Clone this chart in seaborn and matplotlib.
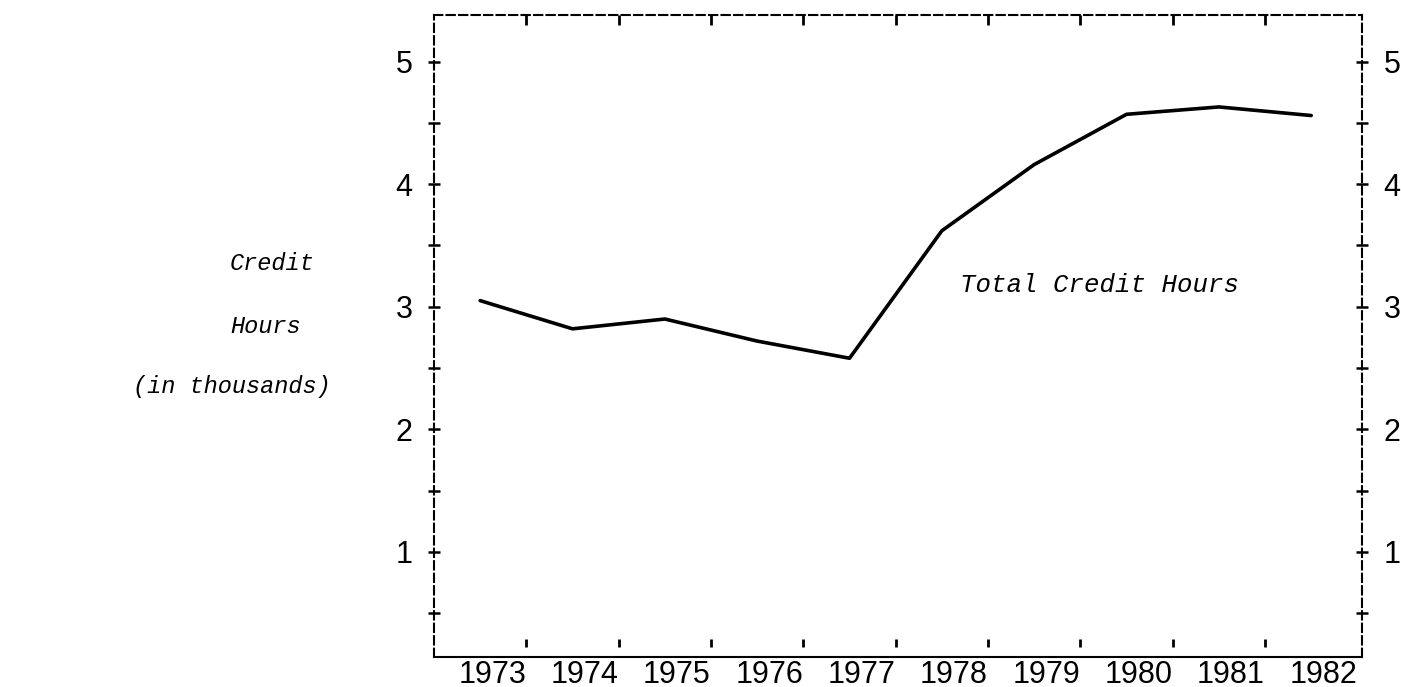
import matplotlib
matplotlib.use("Agg")
import matplotlib.pyplot as plt
import matplotlib.transforms as mtransforms
from matplotlib.ticker import FixedLocator, FuncFormatter
import numpy as np
import pandas as pd
import seaborn as sns

# Total credit hours per year (thousands)
years = [1973, 1974, 1975, 1976, 1977, 1978, 1979, 1980, 1981, 1982]
credit_hours = [3.05, 2.82, 2.90, 2.72, 2.58, 3.62, 4.16, 4.57, 4.63, 4.56]
y_label_values = [1, 2, 3, 4, 5]
y_axis_lines = ["Credit", "Hours", "(in thousands)"]
series_name = "Total Credit Hours"

sns.set_theme(style="white")
plt.rcParams["font.family"] = ["Liberation Sans Narrow", "Liberation Sans", "DejaVu Sans"]
plt.rcParams["axes.edgecolor"] = "black"
plt.rcParams["text.color"] = "black"
plt.rcParams["xtick.color"] = "black"
plt.rcParams["ytick.color"] = "black"

W, H = 1401, 687
fig = plt.figure(figsize=(W / 100, H / 100), dpi=100)
fig.patch.set_facecolor("white")
ax = fig.add_axes([434 / W, 1 - 657 / H, (1362 - 434) / W, (657 - 15) / H])

df = pd.DataFrame({"year": years, "hours": credit_hours})
sns.lineplot(data=df, x="year", y="hours", color="black", linewidth=2.6, ax=ax)

ax.set_xlim(years[0] - 0.5, years[-1] + 0.55)
ax.set_ylim(0.143, 5.38)
ax.set_xlabel("")
ax.set_ylabel("")

# frame: dashed on three sides, solid baseline
for side in ["left", "right", "top"]:
    ax.spines[side].set_linestyle((0, (4, 2)))
    ax.spines[side].set_linewidth(1.5)
ax.spines["bottom"].set_linewidth(1.5)

# y axis: crosses every half unit, numbers on whole units, both sides
half_steps = np.arange(0.5, max(y_label_values) + 0.01, 0.5)
ax.yaxis.set_major_locator(FixedLocator(half_steps))
ax.yaxis.set_major_formatter(
    FuncFormatter(lambda v, _: f"{int(round(v))}" if int(round(v)) in y_label_values and abs(v - round(v)) < 1e-6 else "")
)
ax.tick_params(axis="y", which="major", direction="inout", length=9, width=1.8,
               left=True, right=True, labelleft=True, labelright=True,
               labelsize=22, pad=11)

# x axis: year labels under each point, tick marks between years
half_years = [y + 0.5 for y in years[:-1]]
ax.set_xticks(years)
ax.set_xticklabels([str(y) for y in years])
ax.tick_params(axis="x", which="major", length=0, labelsize=22, pad=2,
               bottom=True, top=False)
ax.set_xticks(half_years, minor=True)
ax.tick_params(axis="x", which="minor", direction="in", length=7, width=2,
               bottom=False, top=True)
shift = mtransforms.ScaledTranslation(12 / 100, 0, fig.dpi_scale_trans)
for lbl in ax.get_xticklabels():
    lbl.set_transform(lbl.get_transform() + shift)

# short marks floating just above the baseline
sec = ax.secondary_xaxis(0.016)
sec.set_xticks(half_years)
sec.set_xticklabels([])
sec.tick_params(direction="in", length=6, width=2, color="black")
sec.spines["bottom"].set_visible(False)

# series label inside the plot
mono = dict(family=["Liberation Mono", "DejaVu Sans Mono"], style="italic")
ax.text(1978.2, 3.18, series_name, va="center", ha="left", fontsize=18.5, **mono)

# stacked axis title on the left
fig.text(230 / W, 1 - 264 / H, y_axis_lines[0], va="center", ha="left", fontsize=17, **mono)
fig.text(230 / W, 1 - 326 / H, y_axis_lines[1], va="center", ha="left", fontsize=17, **mono)
fig.text(133 / W, 1 - 387 / H, y_axis_lines[2], va="center", ha="left", fontsize=17, **mono)

fig.savefig("out.png", dpi=100, facecolor="white")
